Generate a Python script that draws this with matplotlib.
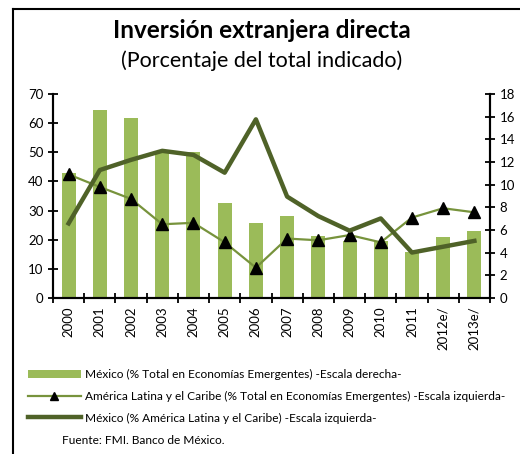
import matplotlib.pyplot as plt
from matplotlib.lines import Line2D
import numpy as np

plt.rcParams['font.family'] = ['Lato', 'DejaVu Sans']

# Data
years = ["2000", "2001", "2002", "2003", "2004", "2005", "2006", "2007",
         "2008", "2009", "2010", "2011", "2012e/", "2013e/"]
mex_pct_em = [11.0, 16.6, 15.9, 12.9, 12.9, 8.4, 6.6, 7.2, 5.5, 5.0, 5.0, 4.1, 5.4, 5.9]
latam_pct_em = [42.4, 38.1, 34.0, 25.3, 25.8, 19.1, 10.4, 20.4, 19.8, 21.6, 19.1, 27.6, 30.8, 29.4]
mex_pct_latam = [25.6, 43.9, 47.4, 50.5, 49.1, 43.0, 61.3, 34.8, 28.1, 23.1, 27.3, 15.6, 17.6, 19.6]

bar_color = "#9BBB59"
thin_color = "#77933C"
dark_color = "#4F6228"

fig = plt.figure(figsize=(5.2, 4.54), dpi=100)
ax = fig.add_axes([53 / 520, 1 - 298 / 454, 437 / 520, 204 / 454])
ax2 = ax.twinx()
ax.set_zorder(ax2.get_zorder() + 1)
ax.patch.set_visible(False)

x = np.arange(len(years))
bars = ax2.bar(x, mex_pct_em, width=0.45, color=bar_color, zorder=1)
l1, = ax.plot(x, latam_pct_em, color=thin_color, lw=1.6, marker="^",
              markersize=8, markerfacecolor="black", markeredgecolor="black")
l2, = ax.plot(x, mex_pct_latam, color=dark_color, lw=3.2)

ax.set_xlim(-0.5, len(years) - 0.5)
ax.set_ylim(0, 70)
ax2.set_ylim(0, 18)
ax.set_yticks(range(0, 71, 10))
ax2.set_yticks(range(0, 19, 2))

ax.set_xticks(x)
ax.set_xticklabels(years, rotation=90, fontsize=9.5)
ax.set_xticks(np.arange(-0.5, len(years), 1), minor=True)
ax.tick_params(axis="x", which="major", length=0, pad=6)
ax.tick_params(axis="x", which="minor", length=7, direction="inout", width=1.3)
ax.tick_params(axis="y", direction="inout", length=7, width=1.3, labelsize=9.5)
ax2.tick_params(axis="y", direction="inout", length=7, width=1.3, labelsize=9.5)

for a in (ax, ax2):
    a.spines["top"].set_visible(False)
    for s in ["left", "right", "bottom"]:
        a.spines[s].set_linewidth(1.5)

# Title
fig.text(0.503, 1 - 31 / 454, "Inversión extranjera directa", ha="center", va="center",
         fontsize=17.5, fontweight="bold")
fig.text(0.503, 1 - 61 / 454, "(Porcentaje del total indicado)", ha="center", va="center",
         fontsize=15.5)

# Legend (smaller triangle in the key)
l1_key = Line2D([], [], color=thin_color, lw=1.6, marker="^", markersize=6,
                markerfacecolor="black", markeredgecolor="black")
handles = [bars, l1_key, l2]
labels = ["México (% Total en Economías Emergentes) -Escala derecha-",
          "América Latina y el Caribe (% Total en Economías Emergentes) -Escala izquierda-",
          "México (% América Latina y el Caribe) -Escala izquierda-"]
fig.legend(handles, labels, loc="upper left", bbox_to_anchor=(28 / 520, 1 - 369 / 454),
           frameon=False, fontsize=8.6, handlelength=4.4, handletextpad=0.35,
           labelspacing=0.9, borderpad=0, borderaxespad=0)

fig.text(62 / 520, 1 - 440 / 454, "Fuente: FMI. Banco de México.", ha="left", va="center",
         fontsize=8.6)

# Frame
fig.add_artist(Line2D([13 / 520, 13 / 520], [0, 1 - 9 / 454], color="black", lw=1.5))
fig.add_artist(Line2D([13 / 520, 1], [1 - 9 / 454, 1 - 9 / 454], color="black", lw=1.5))

fig.savefig("out.png", dpi=100)
